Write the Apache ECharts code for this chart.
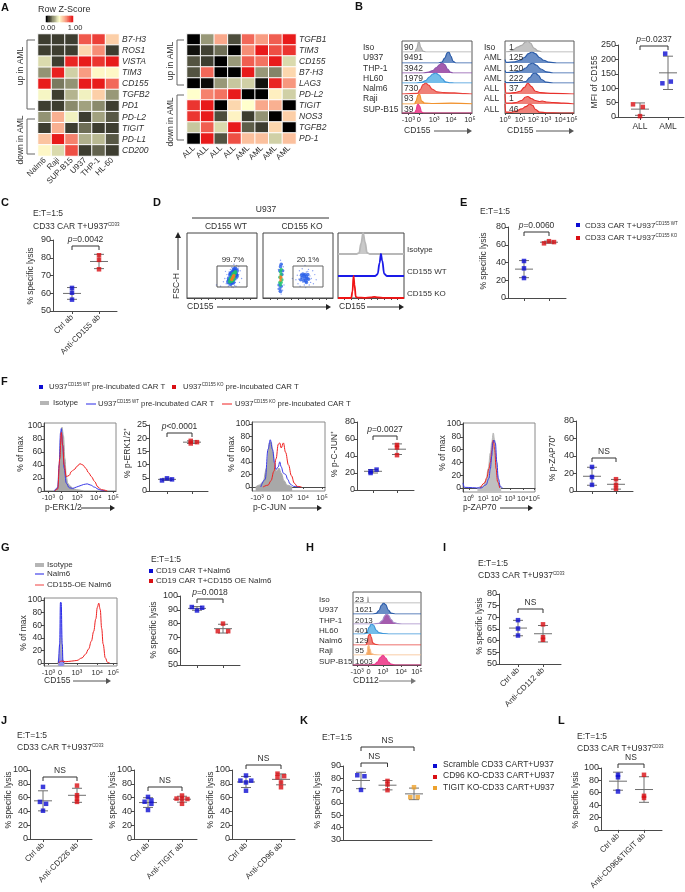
<!DOCTYPE html>
<html>
<head>
<meta charset="utf-8">
<script src="https://cdn.jsdelivr.net/npm/echarts@6/dist/echarts.min.js"></script>
<style>
  html, body { margin: 0; padding: 0; background: #fff; }
  #main { width: 685px; height: 892px; }
</style>
</head>
<body>
<div id="main"></div>
<script>
// ---- panel A
var cellLines = ['Nalm6', 'Raji', 'SUP-B15', 'U937', 'THP-1', 'HL-60'];
var cellGenes = ['B7-H3', 'ROS1', 'VISTA', 'TIM3', 'CD155', 'TGFB2', 'PD1', 'PD-L2', 'TIGIT', 'PD-L1', 'CD200'];
var cellZ = [
  [.11, .11, .11, .88, .93, .62],
  [.11, .11, .11, .6, .78, .11],
  [.42, .11, .98, 1, .95, 1],
  [.27, .99, .4, .75, .52, .52],
  [1, .22, .27, 1, 1, .85],
  [.48, .11, .34, .47, .62, .28],
  [.11, .11, .25, .3, .25, .11],
  [.27, .7, .47, .11, .3, .16],
  [.11, .7, .11, .2, .11, .11],
  [.65, 1, .8, .33, .35, .16],
  [.52, .42, .9, .11, .18, .11]
];
var patients = ['ALL', 'ALL', 'ALL', 'ALL', 'AML', 'AML', 'AML', 'AML'];
var patientGenes = ['TGFB1', 'TIM3', 'CD155', 'B7-H3', 'LAG3', 'PD-L2', 'TIGIT', 'NOS3', 'TGFB2', 'PD-1'];
var patientZ = [
  [0, .28, .72, .14, .85, .75, .87, 1],
  [.03, .12, .2, 0, .78, 1, .9, .95],
  [.15, .11, 0, .28, .87, .83, 1, .42],
  [.15, .85, 0, 0, 1, .28, .24, .6],
  [0, .02, .28, .38, .4, .03, .98, .76],
  [.5, .8, .83, 1, 0, 0, .54, .4],
  [.95, 1, 0, .6, .5, .72, .7, 0],
  [.95, 1, .14, .53, .11, .27, 0, .62],
  [.38, .87, .42, 1, .17, .11, .6, 0],
  [0, 1, .15, .9, .66, .66, .4, .66]
];
var scaleSteps = [0, .05, .1, .15, .2, .25, .3, .35, .4, .45, .5, .55, .6, .65, .7, .75, .8, .85, .9, .95, 1];

// ---- flow histograms, [fluorescence position, % of max]
var isoA = [[18,0],[21,30],[24,100],[27,40],[30,8],[34,0]];
var u937A = [[52,0],[57,8],[61,45],[65,95],[67,100],[70,60],[73,15],[77,0]];
var thp1A = [[30,0],[38,8],[44,25],[49,55],[54,85],[57,100],[61,85],[65,40],[69,8],[73,0]];
var hl60A = [[20,0],[28,6],[34,25],[39,60],[44,90],[48,100],[53,80],[57,45],[62,12],[68,2],[75,0]];
var nalm6A = [[22,5],[26,40],[30,85],[34,100],[38,80],[43,45],[50,20],[60,12],[75,10],[90,3],[100,0]];
var rajiA = [[18,0],[20,30],[23,90],[25,100],[28,30],[32,10],[45,5],[70,8],[100,2]];
var supA = [[18,0],[20,30],[22,90],[23,100],[25,80],[28,10],[31,0]];
var isoP = [[0,0],[6,4],[12,20],[18,45],[24,60],[30,92],[33,100],[37,80],[42,35],[48,10],[55,0]];
var aml1 = [[0,30],[2,5],[14,10],[22,25],[28,50],[34,85],[39,100],[44,85],[50,50],[56,25],[64,8],[75,0]];
var aml2 = [[0,25],[2,5],[14,8],[24,25],[30,50],[36,90],[40,100],[45,80],[52,40],[60,12],[70,0]];
var aml3 = [[0,20],[2,3],[20,5],[30,15],[36,55],[41,95],[44,100],[48,80],[53,35],[60,8],[70,0]];
var all1 = [[0,100],[1,10],[6,8],[14,12],[22,25],[28,60],[33,100],[38,70],[44,25],[52,12],[70,5],[100,0]];
var all2 = [[0,100],[1,10],[8,8],[16,15],[24,35],[30,70],[33,75],[38,55],[44,35],[50,25],[54,30],[60,20],[70,15],[85,8],[100,0]];
var all3 = [[0,100],[1,10],[8,8],[16,20],[24,45],[30,70],[36,100],[40,85],[44,40],[50,10],[60,2],[80,0]];
var isoD = [[28,0],[32,5],[35,50],[38,100],[41,55],[44,6],[48,0]];
var wtD = [[56,0],[60,8],[63,60],[65,100],[67,70],[70,10],[74,0]];
var koD = [[20,0],[22,30],[23.5,100],[25,60],[27,5],[30,2],[40,1],[50,3],[55,5],[60,3],[70,1],[100,0]];
var erkIso = [[15,0],[19,5],[21,30],[23,80],[25,98],[27,85],[29,50],[31,22],[33,12],[36,8],[40,4],[45,2],[55,0]];
var erkWt = [[14,0],[19,5],[21,40],[23,90],[24,96],[26,70],[28,35],[31,12],[35,5],[40,4],[45,6],[50,8],[55,10],[60,11],[65,9],[70,6],[75,3],[80,1],[85,0]];
var erkKo = [[15,0],[19,3],[22,50],[24,90],[26,70],[28,40],[31,22],[35,24],[38,30],[42,33],[46,38],[50,42],[54,40],[58,35],[62,28],[66,22],[70,15],[75,6],[80,2],[88,0]];
var junIso = [[5,0],[10,3],[15,8],[20,30],[24,70],[26,72],[29,55],[31,32],[34,25],[37,30],[40,22],[44,10],[48,3],[55,0]];
var junWt = [[12,0],[18,12],[22,60],[25,75],[28,60],[31,38],[33,28],[36,32],[38,40],[40,32],[43,22],[46,20],[49,12],[52,5],[57,1],[65,0]];
var junKo = [[15,0],[22,3],[26,10],[30,25],[33,45],[36,68],[38,70],[40,62],[43,70],[46,55],[50,35],[54,18],[58,6],[62,1],[68,0]];
var zapIso = [[20,0],[28,3],[32,12],[35,30],[38,55],[40,72],[42,86],[44,75],[46,50],[48,20],[50,5],[53,0]];
var zapWt = [[0,8],[2,1],[25,0],[32,5],[36,15],[38,30],[40,50],[41,70],[43,75],[45,70],[47,40],[49,15],[52,2],[55,0]];
var zapKo = [[24,0],[30,8],[33,16],[36,30],[38,40],[40,58],[42,75],[44,60],[46,30],[48,10],[51,0]];
var gIso = [[19,0],[21,8],[23,40],[25,6],[28,0]];
var gNalm = [[20,0],[21.5,30],[22.5,96],[23.5,96],[25,30],[26,2],[27,0]];
var gOe = [[20,0],[24,3],[30,2],[38,3],[45,4],[52,8],[57,14],[61,22],[65,35],[68,50],[71,70],[73,88],[75,95],[77,85],[79,55],[81,30],[84,8],[87,1],[90,0]];
var isoH = [[20,0],[21.5,8],[22,55],[22.5,55],[23,5],[25,0]];
var u937H = [[28,0],[34,5],[38,30],[42,80],[45,100],[48,85],[52,35],[56,8],[62,0]];
var thp1H = [[30,0],[38,6],[43,35],[47,85],[49,100],[52,90],[56,45],[60,15],[66,3],[72,0]];
var hl60H = [[16,0],[20,10],[24,70],[27,100],[30,90],[34,40],[38,15],[44,5],[55,0]];
var nalm6H = [[19,0],[21,30],[23,90],[25,100],[27,70],[29,20],[33,5],[40,0]];
var rajiH = [[19,0],[21,30],[22,90],[23,100],[25,60],[27,15],[31,3],[40,0]];
var supH = [[26,0],[32,6],[36,30],[40,75],[44,100],[48,70],[52,30],[56,8],[62,0]];

// ---- tick labels of the flow plots
var biexLabels = ['-10³', '0', '10³', '10⁴', '10⁵'];
var logLabels = ['10⁰', '10¹', '10²', '10³', '10⁴', '10⁵'];
var ticksBA = [9, 24, 46, 70, 97];
var ticksBB = [0, 22, 41, 59, 80, 97];
var ticksF1 = [6, 24, 46, 72, 96];
var ticksF2 = [7, 23, 48, 70, 96];
var ticksF3 = [8, 28, 46, 65, 83, 99];
var ticksG = [6, 22, 45, 73, 95];
var ticksH = [6, 23, 44, 71, 94];
var pctTicks = [0, 20, 40, 60, 80, 100];

// ---- panel D dots, [CD155, FSC-H]
var wtSparse = [[52,25],[54,30],[56,22],[57,36],[58,28],[59,18],[60,40],[61,24],[62,33],[62,44],[63,19],[64,47],[65,37],[66,16],[66,43],[68,48],[69,24],[70,40],[71,50],[72,30],[73,45],[74,36],[75,24],[76,42],[67,52],[48,18],[42,20],[55,41],[78,30],[70,18],[58,22],[60,35],[72,38],[74,48],[64,17],[68,19]];
var wtBlue = [[59,25],[60,30],[61,27],[62,22],[62,36],[63,28],[64,24],[64,32],[65,40],[65,28],[66,35],[66,24],[67,38],[67,44],[68,30],[68,41],[69,35],[69,45],[70,36],[71,42],[71,34],[63,38]];
var wtGreen = [[61,25],[62,29],[63,26],[64,30],[65,33],[66,29],[66,37],[67,34],[68,38],[69,40],[65,27],[67,30],[63,31]];
var wtRed = [[64,29],[65,31],[66,32],[67,35],[66,34],[64,28]];
var koSparse = [[22,44],[24,50],[25,58],[27,52],[29,48],[21,14],[23,10],[26,6],[28,12],[30,20],[47,28],[49,35],[50,22],[52,42],[53,18],[55,30],[56,45],[57,24],[58,36],[60,50],[61,16],[62,40],[63,26],[65,44],[66,20],[67,34],[69,30],[71,42],[72,22],[74,36],[76,28],[42,30],[51,29],[54,37],[59,20],[64,41],[68,24]];
var koBlue = [[23,20],[24,14],[25,48],[26,18],[27,36],[28,42],[24,42],[26,52],[25,10],[54,28],[56,32],[58,27],[59,34],[60,30],[61,26],[62,33],[63,30],[64,36],[60,36],[65,29],[57,37],[55,35],[62,24]];
var koGreen = [[24,24],[25,20],[26,24],[25,40],[26,36],[27,28],[24,32],[26,44]];
var koRed = [[25,30],[26,32],[25,27],[25,33]];

// ---- dot plots, value and horizontal spread inside each group
var bAll = [44, 35, 3], bAllX = [-.25, .1, 0];
var bAml = [220, 123, 117], bAmlX = [-.1, .1, -.2];
var cCtrl = [63, 60.3, 56.4], cAnti = [81.4, 78.8, 73.5];
var eWt = [41.7, 33.4, 22.5];
var eKo = [61.6, 64, 63], eKoX = [-.2, 0, .2];
var erkWtDots = [4, 4.8, 4.4], erkWtX = [-.2, 0, .2];
var erkKoDots = [19, 18, 18.5], erkKoX = [-.05, -.05, .2];
var junWtDots = [22, 24, 20], junWtX = [-.1, .15, -.1];
var junKoDots = [53, 50, 41];
var zapWtDots = [27.5, 16, 7];
var zapKoDots = [13.5, 7, 2.5];
var gWt = [92, 89.5, 91.5], gWtX = [-.2, 0, .2];
var gOeDots = [80, 74.5, 74.5], gOeX = [0, -.2, .2];
var iCtrl = [68.8, 65.2, 62.2];
var iAnti = [67, 61.5, 60.4];
var j1Ctrl = [75.5, 53.8, 51, 41], j1CtrlX = [0, -.09, .09, 0];
var j1Anti = [77.4, 63.5, 58.6, 53.8];
var j2Ctrl = [61, 54, 56, 51, 42], j2CtrlX = [0, -.1, .1, .1, 0];
var j2Anti = [63, 58.6, 57.7, 58, 51], j2AntiX = [0, -.16, 0, .16, 0];
var j3Ctrl = [92, 84.6, 84.6, 82, 70], j3CtrlX = [0, -.16, .15, 0, 0];
var j3Anti = [94.7, 89.4, 91, 82, 75], j3AntiX = [-.1, -.1, .09, 0, 0];
var kScr = [82.5, 81.7, 70.6], kScrX = [-.14, .13, 0];
var kCd96 = [77.9, 75, 70.4];
var kTigit = [72.8, 64.7, 64.7], kTigitX = [0, -.14, .14];
var lCtrl = [89, 85, 62];
var lAnti = [89, 55, 51.6];

var FONT = 'Arial, "Liberation Sans", sans-serif';
var INK = '#303030';
var BLUE = '#0c0cd2', RED = '#d90f14', ORANGE = '#eda12c';
var AXIS = '#4a4a4a';

var grids = [], xAxes = [], yAxes = [], series = [], g = [];

function txt(x, y, text, o) {
  o = o || {};
  g.push({
    type: 'text', x: x, y: y, silent: true, rotation: o.rot || 0, z: 50,
    style: {
      text: text, fill: o.color || INK, fontFamily: FONT, fontSize: o.size || 8.5,
      fontWeight: o.weight || 'normal', fontStyle: o.style || 'normal',
      align: o.align || 'left', verticalAlign: 'middle',
      rich: {
        s: { fontSize: 4.5, fontFamily: FONT, fill: o.color || INK, verticalAlign: 'top', padding: [0, 0, 4, 0] },
        i: { fontStyle: 'italic', fontSize: o.size || 8.5, fontFamily: FONT, fill: o.color || INK }
      }
    }
  });
}
function yTitle(x, y, text) { txt(x, y, text, { rot: Math.PI / 2, align: 'center' }); }
function seg(x1, y1, x2, y2, color, w) {
  g.push({ type: 'line', silent: true, z: 50, shape: { x1: x1, y1: y1, x2: x2, y2: y2 }, style: { stroke: color || AXIS, lineWidth: w || 1 } });
}
function box(x, y, w, h, o) {
  g.push({ type: 'rect', silent: true, z: 50, shape: { x: x, y: y, width: w, height: h }, style: o });
}
function arrow(x1, x2, y, color) {
  seg(x1, y, x2 - 3, y, color || '#333');
  g.push({ type: 'polygon', silent: true, z: 50, shape: { points: [[x2 - 5, y - 3], [x2, y], [x2 - 5, y + 3]] }, style: { fill: color || '#222' } });
}
function square(x, y, color) { box(x - 2, y - 2, 4, 4, { fill: color }); }
function addGrid(l, t, r, b, o) {
  grids.push(Object.assign({ left: l, top: t, width: r - l, height: b - t, containLabel: false }, o || {}));
  return grids.length - 1;
}

function heat(l, t, r, b, cols, rows, matrix) {
  var idx = addGrid(l, t, r, b);
  xAxes.push({
    gridIndex: idx, type: 'category', data: cols, axisLine: { show: false }, axisTick: { show: false }, splitLine: { show: false },
    axisLabel: { rotate: 45, margin: 3, interval: 0, fontSize: 8, color: INK, fontFamily: FONT }
  });
  yAxes.push({
    gridIndex: idx, type: 'category', data: rows, inverse: true, position: 'right', axisLine: { show: false }, axisTick: { show: false }, splitLine: { show: false },
    axisLabel: { margin: 3, interval: 0, fontSize: 8.5, fontStyle: 'italic', color: INK, fontFamily: FONT }
  });
  var data = [];
  matrix.forEach(function (row, j) { row.forEach(function (v, i) { data.push([i, j, v]); }); });
  series.push({ type: 'heatmap', xAxisIndex: idx, yAxisIndex: idx, data: data, itemStyle: { borderColor: '#fff', borderWidth: 1 }, silent: true });
}

// colour key of panel A, one strip of cells through the same visualMap
function colourKey(l, t, r, b) {
  var idx = addGrid(l, t, r, b);
  xAxes.push({ gridIndex: idx, type: 'category', data: scaleSteps, show: false });
  yAxes.push({ gridIndex: idx, type: 'category', data: ['key'], show: false });
  series.push({
    type: 'heatmap', xAxisIndex: idx, yAxisIndex: idx, silent: true,
    data: scaleSteps.map(function (v, i) { return [i, 0, v]; })
  });
}

// frame with the ticks of one flow plot
function flowFrame(l, t, r, b, o) {
  var idx = addGrid(l, t, r, b, { show: true, borderColor: o.border || '#5a5a5a', borderWidth: 1, backgroundColor: 'transparent' });
  xAxes.push({
    gridIndex: idx, type: 'value', min: 0, max: 100, splitLine: { show: false },
    axisLine: { lineStyle: { color: AXIS } },
    axisTick: { customValues: o.ticks, length: 2, lineStyle: { color: AXIS } },
    axisLabel: {
      customValues: o.ticks, margin: 3, fontSize: 7.5, color: INK, fontFamily: FONT, hideOverlap: false,
      formatter: function (v) { return o.labels[o.ticks.indexOf(v)]; }
    }
  });
  if (o.yMin === undefined) {
    yAxes.push({ gridIndex: idx, type: 'value', min: 0, max: 100, show: false });
  } else {
    yAxes.push({
      gridIndex: idx, type: 'value', min: o.yMin, max: o.yMax, splitLine: { show: false },
      axisLine: { lineStyle: { color: AXIS } },
      axisTick: { customValues: pctTicks, length: 3, lineStyle: { color: AXIS } },
      axisLabel: { customValues: pctTicks, margin: 2, fontSize: 8.5, color: INK, fontFamily: FONT }
    });
  }
  return idx;
}
function trace(idx, data, line, fill, w) {
  series.push({
    type: 'line', xAxisIndex: idx, yAxisIndex: idx, data: data, showSymbol: false, smooth: .4, smoothMonotone: 'x', silent: true,
    lineStyle: { color: line, width: w === undefined ? 1 : w },
    areaStyle: fill ? { color: fill, opacity: 1, origin: 'start' } : undefined
  });
}
// rows stacked on each other inside one frame, rows = [{data, line, fill}]
function stackedRows(l, r, baselines, top, rows, w) {
  rows.forEach(function (row, i) {
    var t = i === 0 ? top : baselines[i - 1];
    var idx = addGrid(l, t, r, baselines[i]);
    xAxes.push({ gridIndex: idx, type: 'value', min: 0, max: 100, show: false });
    yAxes.push({ gridIndex: idx, type: 'value', min: 0, max: 100, show: false });
    var d = row.data;
    if (d[0][0] > 0) d = [[0, 0]].concat(d);
    if (d[d.length - 1][0] < 100) d = d.concat([[100, 0]]);
    trace(idx, d, row.line, row.fill, w || 1.2);
  });
}

// one dot plot: spine at x0, groups at px positions, mean and SD come from the values
function dotPlot(o) {
  var unit = o.groupPx[1] - o.groupPx[0];
  var xMin = 1 - (o.groupPx[0] - o.x0) / unit;
  var xMax = 1 + (o.x1 - o.groupPx[0]) / unit;
  var idx = addGrid(o.x0, o.top, o.x1, o.bottom);
  var pos = o.groups.map(function (_, i) { return i + 1; });
  xAxes.push({
    gridIndex: idx, type: 'value', min: xMin, max: xMax, splitLine: { show: false },
    axisLine: { lineStyle: { color: AXIS, width: 1 } },
    axisTick: { customValues: pos, length: 3, lineStyle: { color: AXIS } },
    axisLabel: {
      show: !!o.labels, customValues: pos, margin: 5, fontSize: o.rotate ? 8 : 8.5, color: INK, fontFamily: FONT, hideOverlap: false,
      rotate: o.rotate || 0,
      formatter: function (v) { return o.labels ? o.labels[v - 1] : ''; }
    }
  });
  yAxes.push({
    gridIndex: idx, type: 'value', min: o.yMin, max: o.yMax, interval: o.step, splitLine: { show: false },
    axisLine: { show: true, lineStyle: { color: AXIS, width: 1 } },
    axisTick: { show: true, length: 3, lineStyle: { color: AXIS } },
    axisLabel: { margin: 2, fontSize: 9, color: INK, fontFamily: FONT }
  });
  o.groups.forEach(function (grp, i) {
    var vals = grp.values;
    var mean = vals.reduce(function (a, b) { return a + b; }, 0) / vals.length;
    var sd = Math.sqrt(vals.reduce(function (a, b) { return a + (b - mean) * (b - mean); }, 0) / (vals.length - 1));
    series.push({
      type: 'custom', xAxisIndex: idx, yAxisIndex: idx, silent: true, z: 3, data: [[i + 1, mean, sd]],
      renderItem: function (p, api) {
        var m = api.coord([api.value(0), api.value(1)]);
        var hi = api.coord([api.value(0), api.value(1) + api.value(2)]);
        var lo = api.coord([api.value(0), api.value(1) - api.value(2)]);
        var st = { stroke: '#6e6e6e', lineWidth: 1 };
        function ln(a, b, c, d) { return { type: 'line', shape: { x1: a, y1: b, x2: c, y2: d }, style: st }; }
        return { type: 'group', children: [
          ln(m[0] - 9, m[1], m[0] + 9, m[1]),
          ln(hi[0], hi[1], lo[0], lo[1]),
          ln(hi[0] - 5, hi[1], hi[0] + 5, hi[1]),
          ln(lo[0] - 5, lo[1], lo[0] + 5, lo[1])
        ] };
      }
    });
    series.push({
      type: 'scatter', xAxisIndex: idx, yAxisIndex: idx, symbol: 'rect', symbolSize: 4.5, silent: true, z: 4,
      itemStyle: { color: grp.color },
      data: vals.map(function (v, k) { return [i + 1 + (grp.spread ? grp.spread[k] : 0), v]; })
    });
  });
  (o.brackets || []).forEach(function (b) {
    series.push({
      type: 'custom', xAxisIndex: idx, yAxisIndex: idx, silent: true, z: 3, data: [[b.from, b.to]],
      renderItem: function (p, api) {
        var a = api.coord([api.value(0), o.yMin])[0], c = api.coord([api.value(1), o.yMin])[0];
        return { type: 'polyline', shape: { points: [[a, b.y + 4], [a, b.y], [c, b.y], [c, b.y + 4]] }, style: { stroke: '#333', lineWidth: 1, fill: null } };
      }
    });
    txt((o.groupPx[0] + unit * (b.from - 1) + o.groupPx[0] + unit * (b.to - 1)) / 2, b.y - 6, b.text, { align: 'center' });
  });
}

function dots(points, color, size, gridIdx) {
  series.push({ type: 'scatter', xAxisIndex: gridIdx, yAxisIndex: gridIdx, symbol: 'circle', symbolSize: size, silent: true, data: points, itemStyle: { color: color } });
}

// ---------- A
heat(38, 34, 119, 156, cellLines, cellGenes, cellZ);
heat(187, 34, 296, 144, patients, patientGenes, patientZ);
colourKey(46, 16, 73, 22);
txt(38, 10, 'Row Z-Score', { size: 9 });
txt(48, 28, '0.00', { size: 7.5, align: 'center' });
txt(75, 28, '1.00', { size: 7.5, align: 'center' });
function sideBracket(xl, xr, y0, y1) {
  g.push({ type: 'polyline', silent: true, shape: { points: [[xr, y0], [xl, y0], [xl, y1], [xr, y1]] }, style: { stroke: '#666', lineWidth: 1, fill: null } });
}
sideBracket(27, 35, 40, 109);
sideBracket(27, 35, 119, 154);
sideBracket(177, 184, 40, 85);
sideBracket(177, 184, 95, 140);
yTitle(21, 66, 'up in AML');
yTitle(21, 140, 'down in AML');
yTitle(171, 61, 'up in AML');
yTitle(171, 122, 'down in AML');

// ---------- B
var rowBase = [52, 63, 73, 83, 94, 104, 113];
var rowLabelY = [48, 58, 69, 79, 89, 99, 110];
flowFrame(402, 41, 472, 113, { ticks: ticksBA, labels: biexLabels });
stackedRows(402, 472, rowBase, 41, [
  { data: isoA, line: '#ababab', fill: '#c4c4c4' },
  { data: u937A, line: '#2c5ca8', fill: '#6a8ec6' },
  { data: thp1A, line: '#8c55ab', fill: '#a45cae' },
  { data: hl60A, line: '#3d96da', fill: '#73bdea' },
  { data: nalm6A, line: '#e8423c', fill: '#ef8078' },
  { data: rajiA, line: '#f1932f', fill: '#f5a862' },
  { data: supA, line: '#e73b8b', fill: '#ee4f95' }
]);
flowFrame(505, 41, 574, 113, { ticks: ticksBB, labels: logLabels });
stackedRows(505, 574, rowBase, 41, [
  { data: isoP, line: '#ababab', fill: '#c4c4c4' },
  { data: aml1, line: '#2c5ca8', fill: '#6a8ec6' },
  { data: aml2, line: '#2c5ca8', fill: '#6a8ec6' },
  { data: aml3, line: '#2c5ca8', fill: '#6a8ec6' },
  { data: all1, line: '#e8302c', fill: '#ef8078' },
  { data: all2, line: '#e8302c', fill: '#ef8078' },
  { data: all3, line: '#e8302c', fill: '#ef8078' }
]);
['Iso', 'U937', 'THP-1', 'HL60', 'Nalm6', 'Raji', 'SUP-B15'].forEach(function (s, i) { txt(363, rowLabelY[i], s); });
['90', '9491', '3942', '1979', '730', '93', '39'].forEach(function (s, i) { txt(404, rowLabelY[i], s); });
['Iso', 'AML', 'AML', 'AML', 'ALL', 'ALL', 'ALL'].forEach(function (s, i) { txt(484, rowLabelY[i], s); });
['1', '125', '120', '222', '37', '1', '46'].forEach(function (s, i) { txt(509, rowLabelY[i], s); });
txt(404, 131, 'CD155');
arrow(434, 472, 131, '#555');
txt(507, 131, 'CD155');
arrow(536, 574, 131, '#555');
dotPlot({
  x0: 618, x1: 684, top: 45, bottom: 117, groupPx: [640, 668], yMin: 0, yMax: 250, step: 50, labels: ['ALL', 'AML'],
  groups: [{ values: bAll, spread: bAllX, color: RED }, { values: bAml, spread: bAmlX, color: BLUE }],
  brackets: [{ from: 1, to: 2, y: 46, text: '{i|p}=0.0237' }]
});
yTitle(595, 82, 'MFI of CD155');

// ---------- C
txt(33, 214, 'E:T=1:5');
txt(33, 227, 'CD33 CAR T+U937{s|CD33}');
dotPlot({
  x0: 53, x1: 117, top: 240, bottom: 311, groupPx: [72, 99], yMin: 50, yMax: 90, step: 10, labels: ['Ctrl ab', 'Anti-CD155 ab'], rotate: 45,
  groups: [{ values: cCtrl, color: BLUE }, { values: cAnti, color: RED }],
  brackets: [{ from: 1, to: 2, y: 246, text: '{i|p}=0.0042' }]
});
yTitle(31, 276, '% specific lysis');

// ---------- D
txt(266, 210, 'U937', { align: 'center' });
seg(192, 218, 329, 218, '#333');
txt(226, 227, 'CD155 WT', { align: 'center' });
txt(302, 227, 'CD155 KO', { align: 'center' });
var dWt = flowFrame(187, 233, 257, 298, { ticks: [10, 20, 30, 40, 50, 60, 70, 80, 90], labels: [], border: '#444' });
dots(wtSparse, '#6f8cf0', 1.4, dWt);
dots(wtBlue, '#1f55e8', 4.5, dWt);
dots(wtGreen, '#1fc66a', 4, dWt);
dots(wtRed, '#f08020', 3, dWt);
var dKo = flowFrame(263, 233, 333, 298, { ticks: [10, 20, 30, 40, 50, 60, 70, 80, 90], labels: [], border: '#444' });
dots(koSparse, '#6f8cf0', 1.4, dKo);
dots(koBlue, '#2a60e8', 3.6, dKo);
dots(koGreen, '#1fc66a', 3.4, dKo);
dots(koRed, '#f08020', 2.6, dKo);
box(217, 266, 30, 21, { stroke: '#555', lineWidth: 1, fill: null });
box(293, 266, 30, 21, { stroke: '#666', lineWidth: 1, fill: null });
txt(233, 260, '99.7%', { align: 'center', size: 8 });
txt(308, 260, '20.1%', { align: 'center', size: 8 });
seg(178, 270, 178, 238, '#333');
g.push({ type: 'polygon', silent: true, shape: { points: [[175, 238], [178, 232], [181, 238]] }, style: { fill: '#222' } });
yTitle(177, 286, 'FSC-H');
txt(187, 307, 'CD155');
arrow(217, 331, 307);
flowFrame(338, 233, 404, 298, { ticks: [10, 20, 30, 40, 50, 60, 70, 80, 90], labels: [], border: '#444' });
stackedRows(338, 404, [254, 276, 298], 233, [
  { data: isoD, line: '#b8b8b8', fill: '#c9c9c9' },
  { data: wtD, line: '#1a1ae8', fill: null },
  { data: koD, line: '#f01414', fill: null }
], 1.8);
txt(407, 250, 'Isotype', { size: 8 });
txt(407, 272, 'CD155 WT', { size: 8 });
txt(407, 294, 'CD155 KO', { size: 8 });
txt(339, 307, 'CD155');
arrow(367, 404, 307);

// ---------- E
txt(480, 212, 'E:T=1:5');
dotPlot({
  x0: 508, x1: 566, top: 227, bottom: 298, groupPx: [524, 549], yMin: 0, yMax: 80, step: 20,
  groups: [{ values: eWt, color: BLUE }, { values: eKo, spread: eKoX, color: RED }],
  brackets: [{ from: 1, to: 2, y: 232, text: '{i|p}=0.0060' }]
});
yTitle(484, 261, '% specific lysis');
square(578, 225, BLUE);
square(578, 238, RED);
txt(585, 226, 'CD33 CAR T+U937{s|CD155 WT}', { size: 8 });
txt(585, 238, 'CD33 CAR T+U937{s|CD155 KO}', { size: 8 });

// ---------- F
square(41, 387, BLUE);
txt(49, 387, 'U937{s|CD155 WT} pre-incubated CAR T', { size: 7.8 });
square(174, 387, RED);
txt(183, 387, 'U937{s|CD155 KO} pre-incubated CAR T', { size: 7.8 });
box(40, 401, 9, 4, { fill: '#b5b5b5' });
txt(53, 403, 'Isotype', { size: 7.8 });
seg(86, 404, 96, 404, '#2a2ae8');
txt(98, 404, 'U937{s|CD155 WT} pre-incubated CAR T', { size: 7.8 });
seg(222, 404, 232, 404, '#f02020');
txt(235, 404, 'U937{s|CD155 KO} pre-incubated CAR T', { size: 7.8 });

var f1 = flowFrame(44, 423, 116, 491, { ticks: ticksF1, labels: biexLabels, yMin: 0, yMax: 104.6, border: '#8a8a8a' });
trace(f1, erkIso, '#a8a8a8', '#a8a8a8');
trace(f1, erkWt, '#3a3ae8', null);
trace(f1, erkKo, '#f02020', null);
yTitle(21, 454, '% of max');
txt(45, 508, 'p-ERK1/2');
arrow(81, 115, 508);
dotPlot({
  x0: 149, x1: 208, top: 425, bottom: 491, groupPx: [167, 192], yMin: 0, yMax: 25, step: 5,
  groups: [{ values: erkWtDots, spread: erkWtX, color: BLUE }, { values: erkKoDots, spread: erkKoX, color: RED }],
  brackets: [{ from: 1, to: 2, y: 433, text: '{i|p}<0.0001' }]
});
yTitle(128, 453, '% p-ERK1/2⁺');

var f2 = flowFrame(252, 422, 325, 491, { ticks: ticksF2, labels: biexLabels, yMin: -6.3, yMax: 103.2, border: '#8a8a8a' });
trace(f2, junIso, '#a8a8a8', '#a8a8a8');
trace(f2, junWt, '#3a3ae8', null);
trace(f2, junKo, '#f02020', null);
yTitle(232, 454, '% of max');
txt(253, 508, 'p-C-JUN');
arrow(289, 322, 508);
dotPlot({
  x0: 357, x1: 414, top: 422, bottom: 490, groupPx: [373, 397], yMin: 0, yMax: 80, step: 20,
  groups: [{ values: junWtDots, spread: junWtX, color: BLUE }, { values: junKoDots, color: RED }],
  brackets: [{ from: 1, to: 2, y: 436, text: '{i|p}=0.0027' }]
});
yTitle(335, 454, '% p-C-JUN⁺');

var f3 = flowFrame(463, 423, 535, 492, { ticks: ticksF3, labels: logLabels, yMin: -6.25, yMax: 101.6, border: '#8a8a8a' });
trace(f3, zapIso, '#b8b8b8', '#c0c0c0');
trace(f3, zapKo, '#f02020', null);
trace(f3, zapWt, '#3a3ae8', null);
yTitle(443, 453, '% of max');
txt(463, 508, 'p-ZAP70');
arrow(500, 533, 508);
dotPlot({
  x0: 576, x1: 633, top: 421, bottom: 491, groupPx: [592, 616], yMin: 0, yMax: 80, step: 20, labels: ['', ''],
  groups: [{ values: zapWtDots, color: BLUE }, { values: zapKoDots, color: RED }],
  brackets: [{ from: 1, to: 2, y: 458, text: 'NS' }]
});
yTitle(553, 458, '% p-ZAP70⁺');

// ---------- G
box(35, 563, 9, 4, { fill: '#b5b5b5' });
txt(47, 565, 'Isotype', { size: 8 });
seg(35, 574, 44, 574, '#6a6aee', 1.5);
txt(47, 574, 'Nalm6', { size: 8 });
seg(35, 585, 44, 585, '#f04040');
txt(47, 585, 'CD155-OE Nalm6', { size: 8 });
var gh = flowFrame(44, 598, 117, 666, { ticks: ticksG, labels: biexLabels, yMin: -4.8, yMax: 103.2, border: '#8a8a8a' });
trace(gh, gIso, '#b0b0b0', '#b0b0b0');
trace(gh, gNalm, '#2a2ae8', '#8f8ff0');
trace(gh, gOe, '#f02020', null);
yTitle(24, 633, '% of max');
txt(44, 681, 'CD155');
arrow(73, 111, 681, '#555');
txt(151, 560, 'E:T=1:5');
square(151, 571, BLUE);
square(151, 581, RED);
txt(156, 571, 'CD19 CAR T+Nalm6', { size: 8 });
txt(156, 581, 'CD19 CAR T+CD155 OE Nalm6', { size: 8 });
dotPlot({
  x0: 180, x1: 240, top: 596, bottom: 665, groupPx: [197, 223], yMin: 50, yMax: 100, step: 10,
  groups: [{ values: gWt, spread: gWtX, color: BLUE }, { values: gOeDots, spread: gOeX, color: RED }],
  brackets: [{ from: 1, to: 2, y: 599, text: '{i|p}=0.0018' }]
});
yTitle(154, 630, '% specific lysis');

// ---------- H
var hBase = [603, 614, 624, 634, 645, 655, 665];
var hLabelY = [600, 610, 621, 631, 641, 651, 662];
flowFrame(353, 592, 421, 665, { ticks: ticksH, labels: biexLabels });
stackedRows(353, 421, hBase, 592, [
  { data: isoH, line: '#ababab', fill: '#c4c4c4' },
  { data: u937H, line: '#2c5ca8', fill: '#6a8ec6' },
  { data: thp1H, line: '#a58cc8', fill: '#a45cae' },
  { data: hl60H, line: '#3d96da', fill: '#73bdea' },
  { data: nalm6H, line: '#e8423c', fill: '#ef8078' },
  { data: rajiH, line: '#f7bd8a', fill: '#f5a862' },
  { data: supH, line: '#e73b8b', fill: '#ee4f95' }
]);
['Iso', 'U937', 'THP-1', 'HL60', 'Nalm6', 'Raji', 'SUP-B15'].forEach(function (s, i) { txt(319, hLabelY[i], s, { size: 8 }); });
['23', '1621', '2013', '401', '129', '95', '1603'].forEach(function (s, i) { txt(355, hLabelY[i], s, { size: 8 }); });
txt(353, 681, 'CD112');
arrow(379, 416, 681, '#777');

// ---------- I
txt(478, 564, 'E:T=1:5');
txt(478, 576, 'CD33 CAR T+U937{s|CD33}');
dotPlot({
  x0: 499, x1: 561, top: 594, bottom: 664, groupPx: [518, 543], yMin: 50, yMax: 80, step: 5, labels: ['Ctrl ab', 'Anti-CD112 ab'], rotate: 45,
  groups: [{ values: iCtrl, color: BLUE }, { values: iAnti, color: RED }],
  brackets: [{ from: 1, to: 2, y: 609, text: 'NS' }]
});
yTitle(480, 626, '% specific lysis');

// ---------- J
txt(17, 736, 'E:T=1:5');
txt(17, 748, 'CD33 CAR T+U937{s|CD33}');
dotPlot({
  x0: 30, x1: 92, top: 770, bottom: 839, groupPx: [43, 77], yMin: 0, yMax: 100, step: 20, labels: ['Ctrl ab', 'Anti-CD226 ab'], rotate: 45,
  groups: [{ values: j1Ctrl, spread: j1CtrlX, color: BLUE }, { values: j1Anti, color: RED }],
  brackets: [{ from: 1, to: 2, y: 777, text: 'NS' }]
});
yTitle(9, 800, '% specific lysis');
dotPlot({
  x0: 134, x1: 197, top: 770, bottom: 839, groupPx: [148, 182], yMin: 0, yMax: 100, step: 20, labels: ['Ctrl ab', 'Anti-TIGIT ab'], rotate: 45,
  groups: [{ values: j2Ctrl, spread: j2CtrlX, color: BLUE }, { values: j2Anti, spread: j2AntiX, color: RED }],
  brackets: [{ from: 1, to: 2, y: 787, text: 'NS' }]
});
yTitle(113, 800, '% specific lysis');
dotPlot({
  x0: 232, x1: 295, top: 770, bottom: 839, groupPx: [246, 281], yMin: 0, yMax: 100, step: 20, labels: ['Ctrl ab', 'Anti-CD96 ab'], rotate: 45,
  groups: [{ values: j3Ctrl, spread: j3CtrlX, color: BLUE }, { values: j3Anti, spread: j3AntiX, color: RED }],
  brackets: [{ from: 1, to: 2, y: 765, text: 'NS' }]
});
yTitle(211, 800, '% specific lysis');

// ---------- K
txt(322, 738, 'E:T=1:5');
dotPlot({
  x0: 343, x1: 432, top: 766, bottom: 840, groupPx: [361, 387.5], yMin: 30, yMax: 90, step: 10, labels: ['', '', ''],
  groups: [{ values: kScr, spread: kScrX, color: BLUE }, { values: kCd96, color: RED }, { values: kTigit, spread: kTigitX, color: ORANGE }],
  brackets: [{ from: 1, to: 3, y: 747, text: 'NS' }, { from: 1, to: 2, y: 763, text: 'NS' }]
});
xAxes[xAxes.length - 1].axisTick.show = false;
yTitle(318, 800, '% specific lysis');
square(435, 766, BLUE);
square(435, 777, RED);
square(435, 788, ORANGE);
txt(443, 765, 'Scramble CD33 CART+U937');
txt(443, 776, 'CD96 KO-CD33 CART+U937');
txt(443, 788, 'TIGIT KO-CD33 CART+U937');

// ---------- L
txt(577, 737, 'E:T=1:5');
txt(577, 749, 'CD33 CAR T+U937{s|CD33}');
dotPlot({
  x0: 601, x1: 662, top: 768, bottom: 840, groupPx: [618, 644], yMin: 0, yMax: 100, step: 20, labels: ['Ctrl ab', 'Anti-CD96&TIGIT ab'], rotate: 45,
  groups: [{ values: lCtrl, color: BLUE }, { values: lAnti, color: RED }],
  brackets: [{ from: 1, to: 2, y: 764, text: 'NS' }]
});
yTitle(576, 800, '% specific lysis');

// ---------- panel letters
[['A', 1, 8], ['B', 355, 7], ['C', 1, 203], ['D', 153, 203], ['E', 460, 203], ['F', 1, 382], ['G', 1, 548], ['H', 306, 548], ['I', 443, 548], ['J', 1, 721], ['K', 300, 721], ['L', 558, 721]].forEach(function (p) {
  txt(p[1], p[2], p[0], { size: 11, weight: 'bold', color: '#111' });
});

var myChart = echarts.init(document.getElementById('main'));
myChart.setOption({
  animation: false,
  backgroundColor: '#fff',
  textStyle: { fontFamily: FONT },
  visualMap: {
    show: false, type: 'continuous', min: 0, max: 1, seriesIndex: [0, 1, 2],
    inRange: { color: ['#000000', '#8a8a6c', '#ffffcc', '#f89c82', '#e81b1b'] }
  },
  grid: grids,
  xAxis: xAxes,
  yAxis: yAxes,
  series: series,
  graphic: g
});
</script>
</body>
</html>
